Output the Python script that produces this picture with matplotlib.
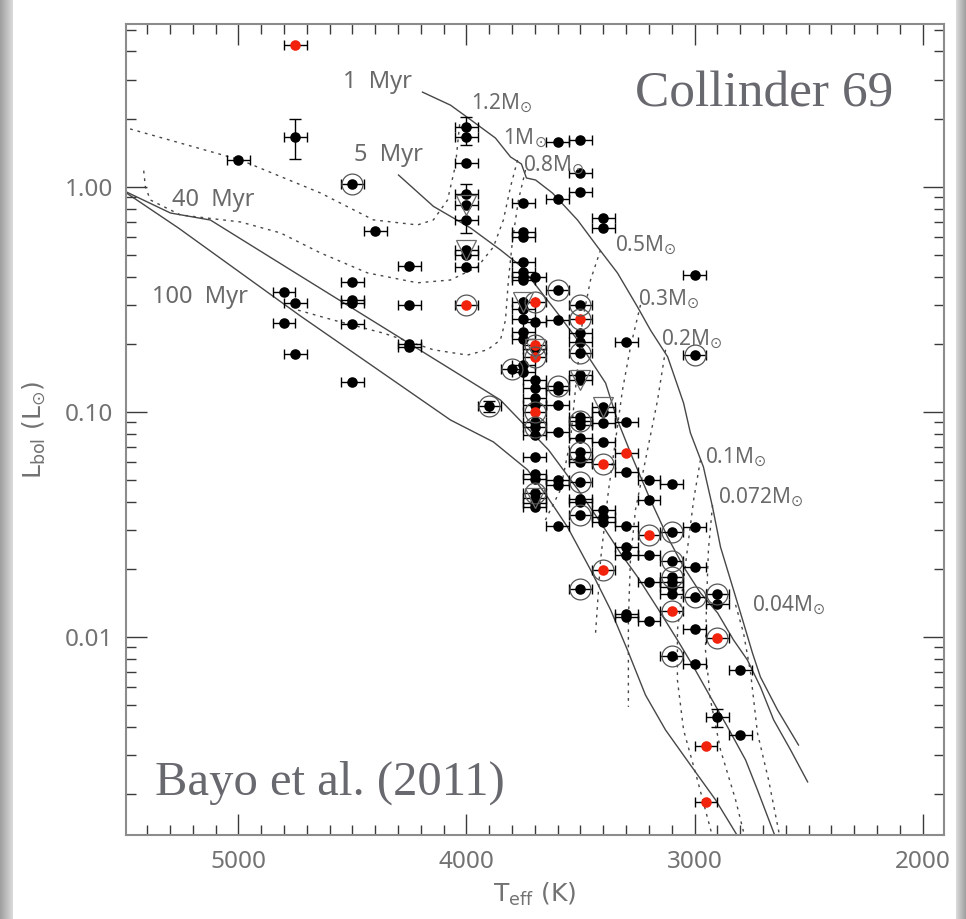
import numpy as np
import matplotlib
matplotlib.use("Agg")
import matplotlib.pyplot as plt
from matplotlib.ticker import FixedLocator, MultipleLocator, LogLocator, NullFormatter, FixedFormatter

# ---------------- data: stars (Teff [K], Lbol [Lsun]) ----------------
teff = [4750, 4750, 5000, 4500, 4400, 4250, 4250, 4250, 4250, 4500, 4500, 4500, 4500, 4500,
        4800, 4750, 4800, 4750,
        4000, 4000, 4000, 4000, 4000, 4000, 4000, 4000, 4000, 4000,
        3900, 3800,
        3750, 3750, 3750, 3750, 3750, 3750, 3750, 3750, 3750, 3750, 3750, 3750, 3750, 3750,
        3700, 3700, 3700, 3700, 3700, 3700, 3700, 3700, 3700, 3700, 3700, 3700, 3700, 3700,
        3700, 3700, 3700, 3700, 3700, 3700, 3700,
        3600, 3600, 3600, 3600, 3600, 3600, 3600, 3600, 3600, 3600, 3600,
        3500, 3500, 3500, 3500, 3500, 3500, 3500, 3500, 3500, 3500, 3500, 3500, 3500, 3500,
        3500, 3500, 3500, 3500, 3500, 3500, 3500, 3500,
        3400, 3400, 3400, 3400, 3400, 3400, 3400, 3400, 3400, 3400, 3400,
        3300, 3300, 3300, 3300, 3300, 3300, 3300, 3300, 3300,
        3200, 3200, 3200, 3200, 3200, 3200,
        3100, 3100, 3100, 3100, 3100, 3100, 3100, 3100, 3100,
        3000, 3000, 3000, 3000, 3000, 3000, 3000,
        2950, 2950,
        2900, 2900, 2900, 2900,
        2800, 2800]
lbol = [4.28, 1.66, 1.32, 1.03, 0.64, 0.445, 0.30, 0.20, 0.195, 0.38, 0.315, 0.305, 0.245, 0.136,
        0.34, 0.304, 0.248, 0.181,
        1.84, 1.66, 1.28, 0.93, 0.83, 0.71, 0.525, 0.50, 0.443, 0.298,
        0.106, 0.155,
        0.85, 0.63, 0.60, 0.466, 0.42, 0.40, 0.386, 0.309, 0.286, 0.260, 0.227, 0.212, 0.161, 0.151,
        0.40, 0.307, 0.252, 0.198, 0.190, 0.176, 0.139, 0.128, 0.115, 0.107, 0.100, 0.0906, 0.0861, 0.079,
        0.0633, 0.053, 0.0505, 0.0435, 0.0413, 0.0393, 0.0377,
        1.59, 0.88, 0.347, 0.256, 0.131, 0.125, 0.107, 0.0817, 0.0499, 0.0474, 0.031,
        1.62, 1.15, 0.95, 0.299, 0.258, 0.224, 0.205, 0.182, 0.146, 0.139, 0.095, 0.091, 0.0875, 0.0765,
        0.0664, 0.062, 0.060, 0.049, 0.041, 0.040, 0.0348, 0.0163,
        0.73, 0.66, 0.105, 0.100, 0.0897, 0.0738, 0.059, 0.0367, 0.0343, 0.0325, 0.0199,
        0.204, 0.0906, 0.066, 0.054, 0.031, 0.0252, 0.0231, 0.0127, 0.0123,
        0.050, 0.0406, 0.0285, 0.0231, 0.0175, 0.0118,
        0.0478, 0.0292, 0.0218, 0.0185, 0.0176, 0.0167, 0.0156, 0.0131, 0.0082,
        0.406, 0.179, 0.0309, 0.0204, 0.0151, 0.0109, 0.00762,
        0.00329, 0.00185,
        0.0156, 0.0140, 0.00986, 0.0044,
        0.00714, 0.00367]
# red (flagged) members
red = [1, 0, 0, 0, 0, 0, 0, 0, 0, 0, 0, 0, 0, 0,
       0, 0, 0, 0,
       0, 0, 0, 0, 0, 0, 0, 0, 0, 1,
       0, 0,
       0, 0, 0, 0, 0, 0, 0, 0, 0, 0, 0, 0, 0, 0,
       0, 1, 0, 1, 0, 1, 0, 0, 0, 0, 1, 0, 0, 0,
       0, 0, 0, 0, 0, 0, 0,
       0, 0, 0, 0, 0, 0, 0, 0, 0, 0, 0,
       0, 0, 0, 0, 1, 0, 0, 0, 0, 0, 0, 0, 0, 0,
       0, 0, 0, 0, 0, 0, 0, 0,
       0, 0, 0, 0, 0, 0, 1, 0, 0, 0, 1,
       0, 0, 1, 0, 0, 0, 0, 0, 0,
       0, 0, 1, 0, 0, 0,
       0, 0, 0, 0, 0, 0, 0, 1, 0,
       0, 0, 0, 0, 0, 0, 0,
       1, 1,
       0, 0, 1, 0,
       0, 0]
# encircled objects
ring = [0, 0, 0, 1, 0, 0, 0, 0, 0, 0, 0, 0, 0, 0,
        0, 0, 0, 0,
        0, 0, 0, 0, 0, 0, 0, 0, 0, 1,
        1, 1,
        0, 0, 0, 0, 0, 0, 0, 0, 0, 0, 0, 0, 0, 0,
        0, 1, 0, 1, 0, 1, 0, 0, 0, 0, 1, 0, 1, 0,
        0, 0, 0, 1, 0, 0, 0,
        0, 0, 1, 0, 1, 0, 0, 0, 0, 0, 0,
        0, 0, 0, 1, 1, 0, 0, 1, 0, 0, 0, 1, 0, 0,
        1, 0, 0, 1, 0, 0, 1, 1,
        0, 0, 0, 0, 0, 0, 1, 0, 0, 0, 1,
        0, 0, 0, 0, 0, 0, 0, 0, 0,
        0, 0, 1, 0, 0, 0,
        0, 1, 1, 1, 0, 0, 0, 1, 1,
        0, 1, 0, 0, 1, 0, 0,
        0, 0,
        1, 0, 1, 0,
        0, 0]
# objects overplotted with an inverted triangle
tri = [0, 0, 0, 0, 0, 0, 0, 0, 0, 0, 0, 0, 0, 0,
       0, 0, 0, 0,
       0, 0, 0, 0, 1, 0, 1, 0, 0, 0,
       0, 0,
       0, 0, 0, 0, 0, 0, 0, 1, 0, 0, 0, 0, 0, 0,
       0, 0, 0, 0, 1, 0, 0, 0, 0, 0, 0, 0, 0, 0,
       0, 0, 0, 0, 1, 0, 0,
       0, 0, 0, 0, 0, 0, 0, 0, 0, 0, 0,
       0, 0, 0, 0, 0, 0, 0, 0, 0, 1, 0, 0, 0, 0,
       0, 0, 0, 0, 0, 0, 0, 0,
       0, 0, 1, 0, 0, 0, 0, 0, 0, 0, 0,
       0, 0, 0, 0, 0, 0, 0, 0, 0,
       0, 0, 0, 0, 0, 0,
       0, 0, 0, 0, 0, 0, 0, 0, 0,
       0, 0, 0, 0, 0, 0, 0,
       0, 0,
       0, 0, 0, 0,
       0, 0]
teff_err = 50.0

# objects with visible luminosity error bars
ey_teff = [4750, 4000, 4000, 4000, 4000, 2900, 3900]
ey_l = [1.66, 1.84, 1.66, 0.93, 0.71, 0.0044, 0.106]
ey_lo = [0.33, 0.0, 0.12, 0.0, 0.085, 0.0004, 0.006]
ey_hi = [0.34, 0.21, 0.0, 0.10, 0.0, 0.0004, 0.006]

# ---------------- model isochrones (solid) ----------------
iso_1_t = [4193, 4070, 3982, 3873, 3807, 3759, 3737, 3697, 3623, 3513, 3425, 3338, 3250, 3193,
           3118, 3048, 3018, 2961, 2921, 2886, 2842, 2789, 2746, 2711, 2636, 2544]
iso_1_l = [2.64, 2.31, 1.99, 1.65, 1.36, 1.265, 1.096, 1.074, 0.94, 0.713, 0.541, 0.415, 0.293, 0.231,
           0.176, 0.1096, 0.0807, 0.057, 0.0378, 0.0251, 0.0179, 0.0119, 0.00849, 0.00664, 0.00474, 0.00331]
iso_5_t = [4298, 4145, 3982, 3851, 3763, 3697, 3601, 3513, 3456, 3390, 3338, 3268, 3193, 3118,
           3048, 2974, 2899, 2829, 2768, 2711, 2653, 2579, 2504]
iso_5_l = [1.13, 0.82, 0.657, 0.525, 0.446, 0.367, 0.275, 0.209, 0.170, 0.1345, 0.092, 0.0612, 0.0406,
           0.0278, 0.0205, 0.0157, 0.0128, 0.0097, 0.0079, 0.006, 0.00428, 0.00315, 0.00227]
iso_40_t = [5491, 5298, 5123, 4728, 4289, 3851, 3640, 3500, 3399, 3325, 3250, 3149, 3075, 3004,
            2930, 2855, 2776, 2724, 2640]
iso_40_l = [0.95, 0.766, 0.713, 0.402, 0.213, 0.113, 0.0678, 0.0436, 0.0308, 0.0236, 0.0185, 0.0128,
            0.0097, 0.00736, 0.00541, 0.00398, 0.00284, 0.00209, 0.00125]
iso_100_t = [5491, 5263, 4728, 4070, 3882, 3732, 3645, 3557, 3456, 3368, 3294, 3215, 3127, 3018, 2908, 2800]
iso_100_l = [0.94, 0.657, 0.267, 0.0921, 0.0736, 0.0553, 0.0419, 0.0308, 0.0199, 0.0132, 0.00875,
             0.00552, 0.00386, 0.0027, 0.00189, 0.00125]

# ---------------- evolutionary tracks (dotted) ----------------
trk_12_t = [4030, 4048, 4083, 4145, 4215, 4408, 4640, 4991, 5491]
trk_12_l = [1.9, 1.25, 0.875, 0.714, 0.678, 0.714, 0.94, 1.318, 1.83]
trk_10_t = [3776, 3807, 3838, 3882, 3952, 4070, 4215, 4434, 4640, 4816, 4991, 5254, 5386, 5408, 5417]
trk_10_l = [1.318, 1.0, 0.714, 0.541, 0.441, 0.386, 0.375, 0.415, 0.509, 0.625, 0.699, 0.751, 0.875, 1.0, 1.227]
trk_08_t = [3741, 3772, 3798, 3816, 3829, 3851, 3908, 3996, 4145, 4364, 4583, 4741]
trk_08_l = [1.19, 0.875, 0.581, 0.386, 0.256, 0.209, 0.189, 0.179, 0.189, 0.224, 0.256, 0.284]
trk_05_t = [3412, 3456, 3491, 3518, 3544, 3588, 3654]
trk_05_l = [0.525, 0.386, 0.256, 0.139, 0.0751, 0.045, 0.0331]
trk_03_t = [3237, 3281, 3316, 3346, 3377, 3412, 3434]
trk_03_l = [0.299, 0.194, 0.125, 0.0751, 0.045, 0.022, 0.0104]
trk_02_t = [3127, 3162, 3215, 3259, 3281, 3290, 3290]
trk_02_l = [0.189, 0.113, 0.0612, 0.0367, 0.022, 0.0119, 0.00489]
trk_01_t = [2974, 3004, 3026, 3048, 3075, 3075, 3048, 2987, 2917]
trk_01_l = [0.0612, 0.0406, 0.027, 0.0179, 0.0107, 0.00644, 0.00386, 0.00231, 0.00125]
trk_0072_t = [2921, 2939, 2947, 2952, 2930, 2886, 2820, 2776]
trk_0072_l = [0.0386, 0.0244, 0.0146, 0.00875, 0.00525, 0.00315, 0.00189, 0.00125]
trk_004_t = [2820, 2785, 2754, 2724, 2675, 2623]
trk_004_l = [0.0139, 0.0104, 0.00692, 0.00374, 0.00231, 0.00125]

x_ticks = [5000, 4000, 3000, 2000]
y_ticks = [0.01, 0.1, 1.0]
y_ticklabels = ["0.01", "0.10", "1.00"]

SUN = "\u2299"
LABFONT = ["Noto Sans", "DejaVu Sans"]

# ---------------- figure ----------------
W, H = 966, 919
fig = plt.figure(figsize=(W / 100, H / 100), dpi=100)
fig.patch.set_facecolor("white")

# grey page edges
for x0, w, flip in [(0, 13, False), (956, 10, True)]:
    ea = fig.add_axes([x0 / W, 0, w / W, 1])
    g = np.linspace(0.62, 0.86, 64)
    if flip:
        g = g[::-1]
    ea.imshow(g[None, :], cmap="gray", vmin=0, vmax=1, aspect="auto")
    ea.axis("off")

ax = fig.add_axes([126 / W, 1 - 835 / H, (944 - 126) / W, (835 - 24) / H])
ax.set_yscale("log")
ax.set_xlim(5493, 1906)
ax.set_ylim(0.001318, 5.30)

lc = "#474747"
for tt, ll in [(iso_1_t, iso_1_l), (iso_5_t, iso_5_l), (iso_40_t, iso_40_l), (iso_100_t, iso_100_l)]:
    ax.plot(tt, ll, "-", color=lc, lw=1.0, zorder=1)
for tt, ll in [(trk_12_t, trk_12_l), (trk_10_t, trk_10_l), (trk_08_t, trk_08_l), (trk_05_t, trk_05_l),
               (trk_03_t, trk_03_l), (trk_02_t, trk_02_l), (trk_01_t, trk_01_l), (trk_0072_t, trk_0072_l),
               (trk_004_t, trk_004_l)]:
    ax.plot(tt, ll, color=lc, lw=1.0, ls=(0, (2.0, 3.5)), zorder=1)

t = np.array(teff, float)
l = np.array(lbol, float)
r = np.array(red, bool)
c = np.array(ring, bool)
v = np.array(tri, bool)

ax.errorbar(t, l, xerr=teff_err, fmt="none", ecolor="black", elinewidth=1.0, capsize=3.5,
            capthick=1.0, zorder=2)
ax.errorbar(ey_teff, ey_l, yerr=[ey_lo, ey_hi], fmt="none", ecolor="black", elinewidth=1.0,
            capsize=4.5, capthick=1.0, zorder=2)
ax.plot(t[~r], l[~r], "o", color="black", ms=7.6, mec="none", zorder=3)
ax.plot(t[r], l[r], "o", color="#f2230c", ms=7.6, mec="none", zorder=3)
ax.plot(t[c], l[c], "o", mfc="none", mec="#555555", ms=15, mew=0.9, zorder=4)
ax.plot(t[v], l[v], "v", mfc="none", mec="#6a6a6a", ms=14, mew=0.9, zorder=4)

# axes styling
for s in ax.spines.values():
    s.set_color("#8c8c8c")
    s.set_linewidth(1.5)
ax.xaxis.set_major_locator(FixedLocator(x_ticks))
ax.xaxis.set_minor_locator(MultipleLocator(100))
ax.yaxis.set_major_locator(FixedLocator(y_ticks))
ax.yaxis.set_major_formatter(FixedFormatter(y_ticklabels))
ax.yaxis.set_minor_locator(LogLocator(base=10, subs=np.arange(2, 10)))
ax.yaxis.set_minor_formatter(NullFormatter())
ax.tick_params(which="both", direction="in", top=True, right=True, color="#3a3a3a", width=1.0)
ax.tick_params(which="major", length=15, labelsize=17.5, labelcolor="#727272")
ax.tick_params(which="minor", length=7.5)
ax.tick_params(axis="x", which="major", pad=11)
ax.tick_params(axis="y", which="major", pad=9)
for lab in ax.get_xticklabels() + ax.get_yticklabels():
    lab.set_family(LABFONT)
    lab.set_fontweight("light")

ax.set_xlabel(r"T$_{\rm eff}$ (K)", fontsize=18, color="#727272", labelpad=5)
ax.set_ylabel("L$_{\\rm bol}$ (L$_{" + SUN + "}$)", fontsize=18, color="#727272", labelpad=12)

# annotations
gc = "#6a6a6a"
for txt, x, y in [("1  Myr", 4390, 2.93), ("5  Myr", 4342, 1.39), ("40  Myr", 5110, 0.875),
                  ("100  Myr", 5167, 0.325)]:
    ax.text(x, y, txt, fontsize=17, color=gc, ha="center", va="center", zorder=5,
            family=LABFONT, fontweight="light")
for txt, x, y in [("1.2", 3982, 2.36), ("1", 3838, 1.65), ("0.8", 3750, 1.25), ("0.5", 3347, 0.552),
                  ("0.3", 3250, 0.315), ("0.2", 3149, 0.209), ("0.1", 2952, 0.0625),
                  ("0.072", 2895, 0.0419), ("0.04", 2746, 0.01374)]:
    ax.text(x, y, txt + "M$_{" + SUN + "}$", fontsize=15, color=gc, ha="left", va="center", zorder=5,
            family=LABFONT, fontweight="light")

ax.text(0.9377, 0.898, "Collinder 69", transform=ax.transAxes, fontsize=37,
        family="Liberation Serif", color="#68686f", ha="right", va="baseline", zorder=6)
ax.text(0.0355, 0.0493, "Bayo et al. (2011)", transform=ax.transAxes, fontsize=35,
        family="Liberation Serif", color="#68686f", ha="left", va="baseline", zorder=6)

fig.savefig("out.png", dpi=100)
